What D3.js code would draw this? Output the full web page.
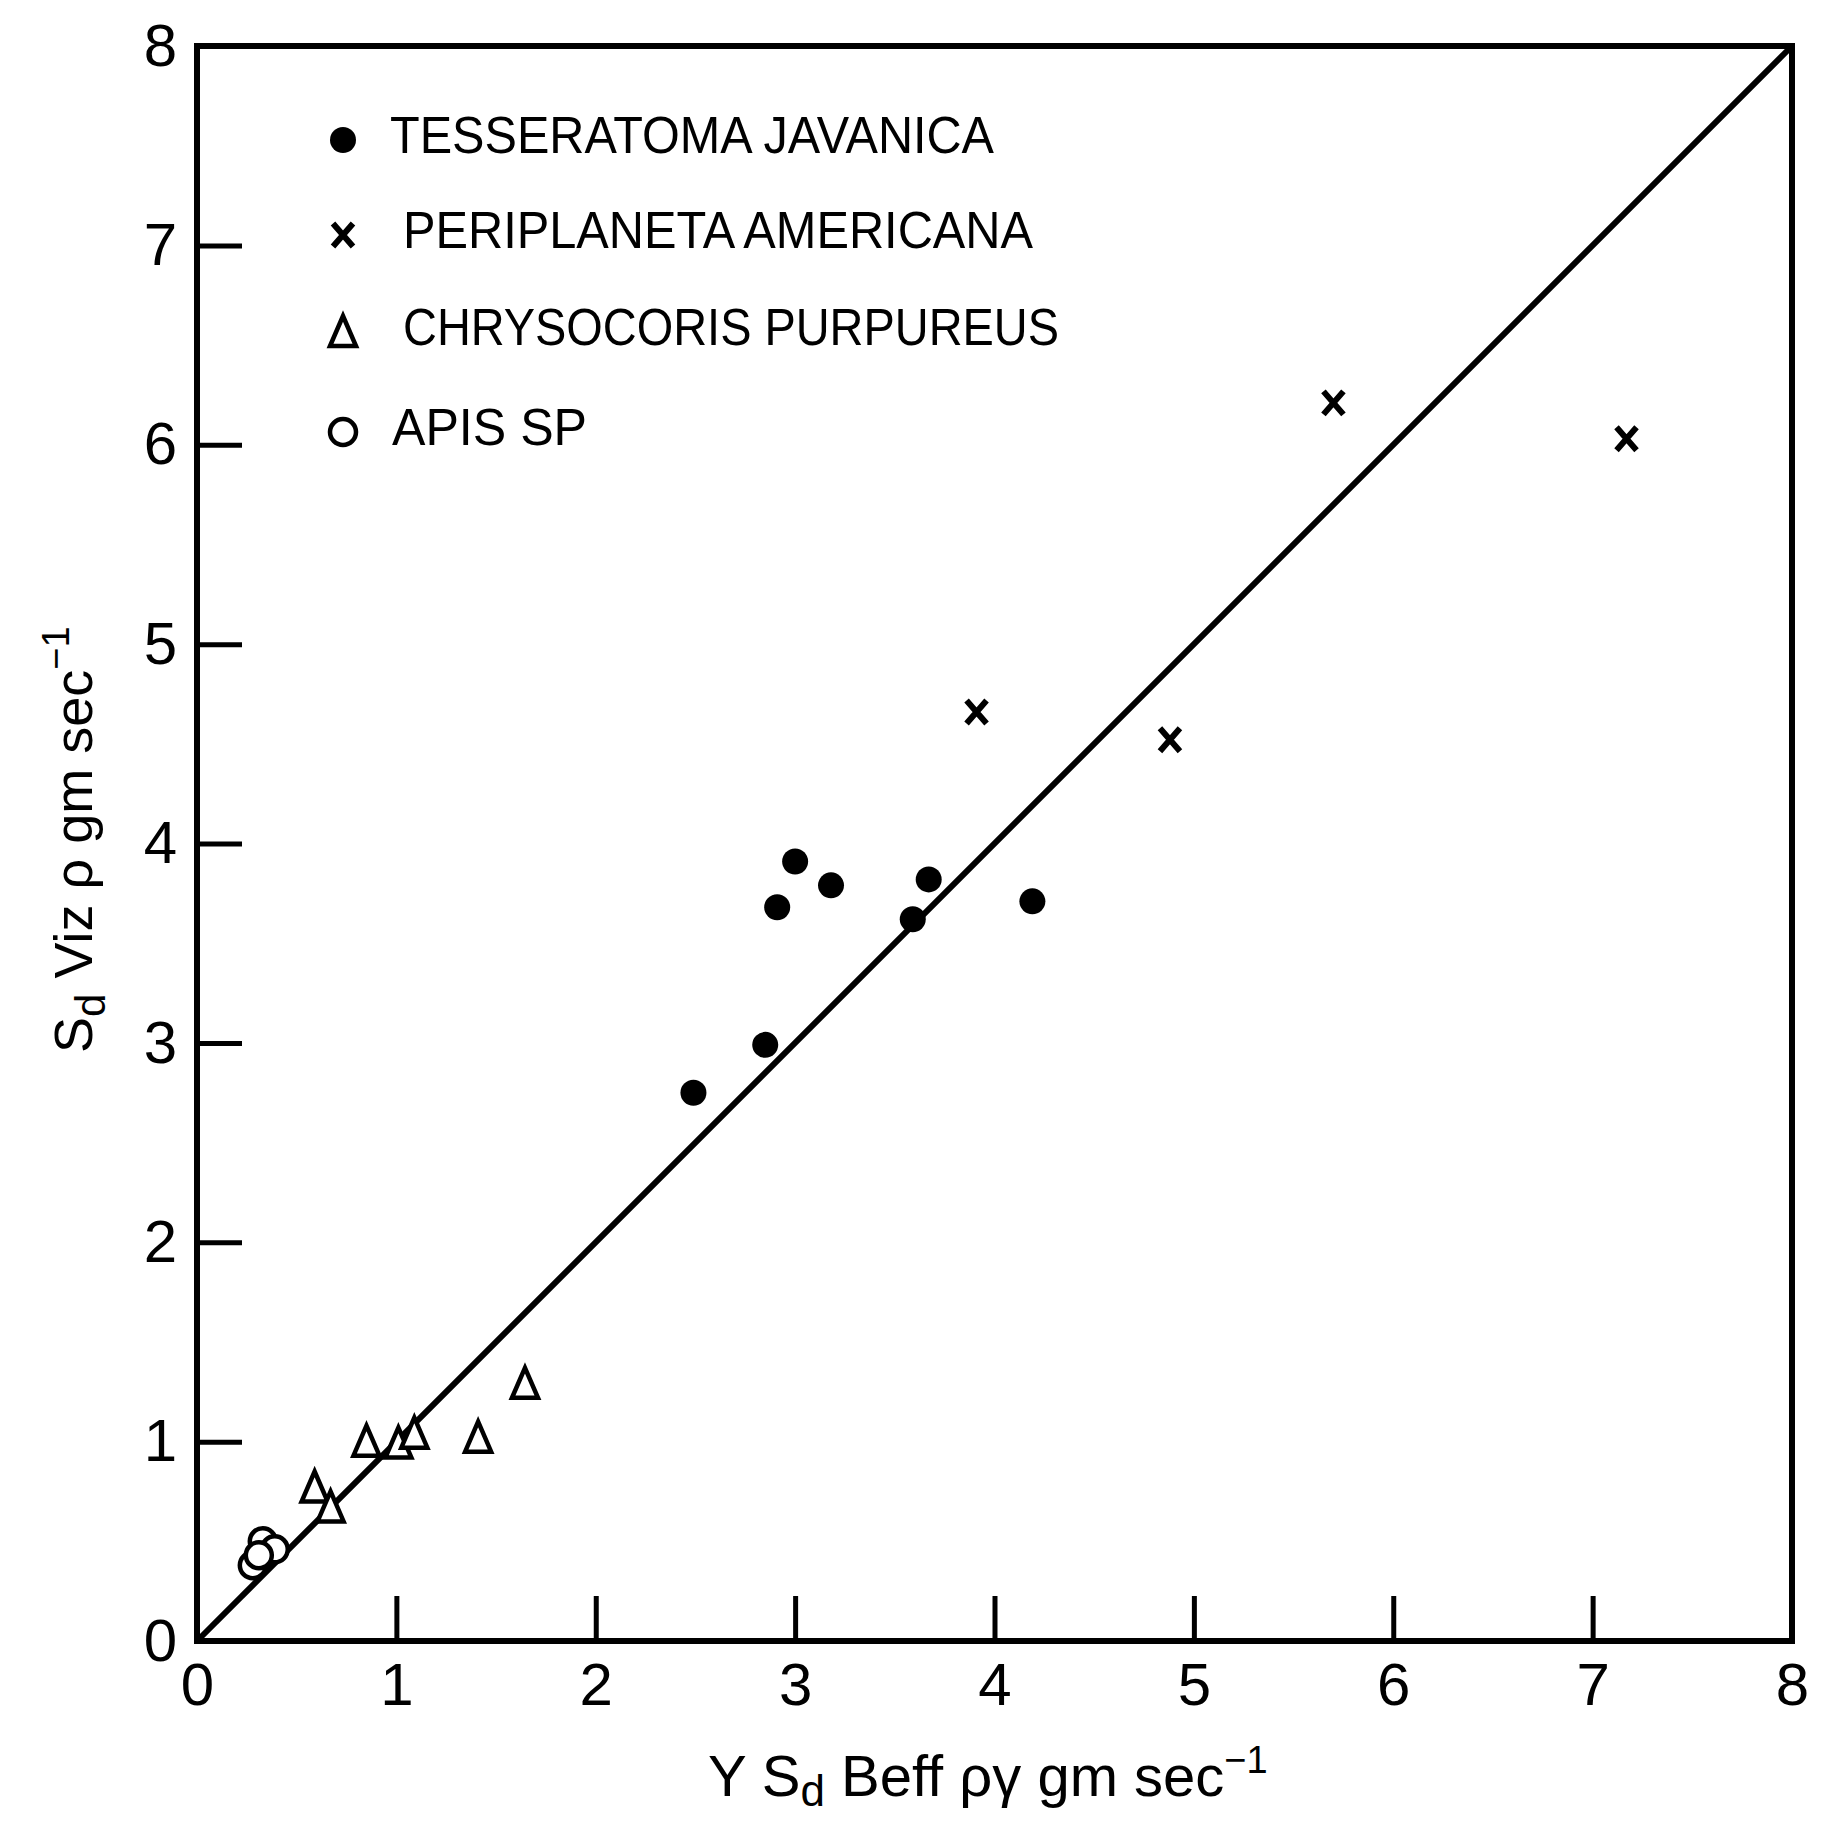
<!DOCTYPE html>
<html lang="en">
<head>
  <meta charset="UTF-8" />
  <title>Sd Viz vs Sd Beff</title>
  <style>
    body { margin: 0; background: #fff; }
    svg { display: block; }
    .tick text { font-family: "Liberation Sans", Arial, sans-serif; font-size: 60px; fill: #000; }
    .tick line { stroke: #000; stroke-width: 5px; }
    .legend text { font-family: "Liberation Sans", Arial, sans-serif; font-size: 52px; fill: #000; }
    .label { font-family: "Liberation Sans", Arial, sans-serif; fill: #000; }
  </style>
  <script src="https://d3js.org/d3.v7.min.js"></script>
</head>
<body>
  <svg id="chart" width="1833" height="1828"></svg>
  <script>
    // values: [x, y]
    const tesseratoma = [[2.49, 2.75], [2.85, 2.99], [2.91, 3.68], [3.00, 3.91],
                         [3.18, 3.79], [3.59, 3.62], [3.67, 3.82], [4.19, 3.71]];
    const periplaneta = [[5.70, 6.21], [7.17, 6.03], [3.91, 4.66], [4.88, 4.52]];
    const chrysocoris = [[1.645, 1.29], [1.41, 1.02], [0.85, 1.00], [1.01, 0.99],
                         [1.09, 1.04], [0.59, 0.77], [0.67, 0.67]];
    const apis = [[0.33, 0.50], [0.28, 0.38], [0.39, 0.46], [0.31, 0.43]];
    const fitLine = [[0, 0], [8, 8]];
    const ticks = [0, 1, 2, 3, 4, 5, 6, 7, 8];
    const legendNames = ["TESSERATOMA JAVANICA", "PERIPLANETA AMERICANA", "CHRYSOCORIS PURPUREUS", "APIS SP"];
    const legendWidths = [604, 630, 656, 195];

    const svg = d3.select("#chart");
    const x = d3.scaleLinear().domain([0, 8]).range([197, 1792]);
    const y = d3.scaleLinear().domain([0, 8]).range([1641, 46]);

    // axes with inward ticks
    svg.append("g")
      .attr("transform", `translate(0,${y(0)})`)
      .call(d3.axisBottom(x).tickValues(ticks).tickFormat(d3.format("d"))
        .tickSizeInner(-45).tickSizeOuter(0).tickPadding(21))
      .call(g => g.select(".domain").remove());

    svg.append("g")
      .attr("transform", `translate(${x(0)},0)`)
      .call(d3.axisLeft(y).tickValues(ticks).tickFormat(d3.format("d"))
        .tickSizeInner(-45).tickSizeOuter(0).tickPadding(20))
      .call(g => g.select(".domain").remove());

    // frame
    svg.append("rect")
      .attr("x", x(0)).attr("y", y(8))
      .attr("width", x(8) - x(0)).attr("height", y(0) - y(8))
      .attr("fill", "none").attr("stroke", "#000").attr("stroke-width", 6);

    // fitted line
    svg.append("path")
      .datum(fitLine)
      .attr("d", d3.line().x(d => x(d[0])).y(d => y(d[1])))
      .attr("stroke", "#000").attr("stroke-width", 6).attr("fill", "none");

    // marker helpers
    function dot(g, cx, cy) {
      g.append("circle").attr("cx", cx).attr("cy", cy).attr("r", 13).attr("fill", "#000");
    }
    function cross(g, cx, cy) {
      const s = 10;
      g.append("path")
        .attr("d", `M${cx - s},${cy - s * 1.15}L${cx + s},${cy + s * 1.15}M${cx + s},${cy - s * 1.15}L${cx - s},${cy + s * 1.15}`)
        .attr("stroke", "#000").attr("stroke-width", 6).attr("fill", "none");
    }
    function tri(g, cx, cy) {
      g.append("path")
        .attr("d", `M${cx},${cy - 16}L${cx + 13},${cy + 14}L${cx - 13},${cy + 14}Z`)
        .attr("stroke", "#000").attr("stroke-width", 4.5).attr("fill", "#fff");
    }
    function ring(g, cx, cy) {
      g.append("circle").attr("cx", cx).attr("cy", cy).attr("r", 13)
        .attr("fill", "#fff").attr("stroke", "#000").attr("stroke-width", 4.5);
    }

    const marks = svg.append("g");
    apis.forEach(d => ring(marks, x(d[0]), y(d[1])));
    chrysocoris.forEach(d => tri(marks, x(d[0]), y(d[1])));
    tesseratoma.forEach(d => dot(marks, x(d[0]), y(d[1])));
    periplaneta.forEach(d => cross(marks, x(d[0]), y(d[1])));

    // legend
    const legend = svg.append("g").attr("class", "legend");
    const drawers = [dot, cross, tri, ring];
    const rowY = [140, 235, 332, 432];
    const textX = [390, 403, 403, 392];
    legendNames.forEach((name, i) => {
      drawers[i](legend, 343, rowY[i]);
      legend.append("text")
        .attr("x", textX[i]).attr("y", rowY[i] + 13)
        .attr("textLength", legendWidths[i]).attr("lengthAdjust", "spacingAndGlyphs")
        .text(name);
    });

    // x label
    const xl = svg.append("text").attr("class", "label")
      .attr("x", 708).attr("y", 1796).attr("font-size", 58);
    xl.append("tspan").text("Y S");
    xl.append("tspan").attr("baseline-shift", "-22%").attr("font-size", 44).text("d");
    xl.append("tspan").attr("baseline-shift", "0").text(" Beff ργ  gm sec");
    xl.append("tspan").attr("baseline-shift", "60%").attr("font-size", 38).text("−1");

    // y label
    const yl = svg.append("text").attr("class", "label")
      .attr("transform", "translate(92,1053) rotate(-90)").attr("font-size", 54);
    yl.append("tspan").text("S");
    yl.append("tspan").attr("baseline-shift", "-30%").attr("font-size", 42).text("d");
    yl.append("tspan").text(" Viz ρ gm sec");
    yl.append("tspan").attr("baseline-shift", "60%").attr("font-size", 38).text("−1");
  </script>
</body>
</html>
